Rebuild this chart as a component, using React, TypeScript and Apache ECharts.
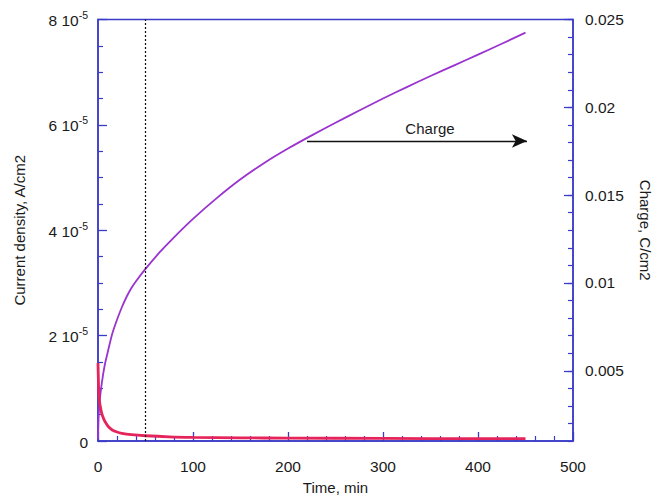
import React, { useEffect, useRef } from "react";
import * as echarts from "echarts";

// Time, min
const chargeTime = [0, 0.5, 1, 2, 4, 7, 10, 15, 20, 25, 30, 35, 40, 50, 65, 80, 100, 125, 150, 175, 200, 225, 250, 275, 300, 325, 350, 375, 400, 425, 450];
// Charge, C/cm2
const chargeValues = [0.0011, 0.0021, 0.0027, 0.0034, 0.0043, 0.0053, 0.006, 0.0071, 0.0079, 0.0086, 0.0092, 0.0097, 0.0101, 0.0108, 0.01175, 0.0126, 0.01365, 0.01483, 0.0159, 0.01683, 0.01765, 0.0184, 0.01912, 0.01982, 0.0205, 0.02115, 0.02178, 0.02239, 0.023, 0.02362, 0.02425];

// Time, min
const currentTime = [0, 0.5, 1, 2, 3, 4, 6, 8, 11, 15, 20, 25, 35, 50, 75, 100, 150, 200, 300, 400, 450];
// Current density, A/cm2
const currentValues = [1.48e-5, 1.1e-5, 0.85e-5, 0.7e-5, 0.6e-5, 0.52e-5, 0.42e-5, 0.35e-5, 0.27e-5, 0.21e-5, 0.17e-5, 0.146e-5, 0.12e-5, 0.1e-5, 0.08e-5, 0.07e-5, 0.06e-5, 0.055e-5, 0.05e-5, 0.045e-5, 0.045e-5];

const xTicks = [0, 100, 200, 300, 400, 500];
const chargeTicks = [0.005, 0.01, 0.015, 0.02, 0.025];
const markerTime = 50;
const arrowStart: [number, number] = [220, 0.01808];
const arrowEnd: [number, number] = [451.5, 0.01808];

const FONT = "'Liberation Sans', Arial, Helvetica, sans-serif";
const AXIS = "#3b3bc9";
const TEXT = "#1a1a1a";

export default function App() {
  const ref = useRef<HTMLDivElement>(null);

  useEffect(() => {
    document.body.style.margin = "0";
    if (!ref.current) return;
    const chart = echarts.init(ref.current, undefined, { renderer: "svg" });

    const axisLine = { show: true, lineStyle: { color: AXIS, width: 1.5 } };
    const nameStyle = { fontSize: 15, color: TEXT, fontFamily: FONT };

    chart.setOption({
      animation: false,
      textStyle: { fontFamily: FONT },
      grid: {
        left: 98,
        right: 92,
        top: 19.5,
        bottom: 57,
        outerBoundsMode: "none",
        containLabel: false,
        show: true,
        borderColor: AXIS,
        borderWidth: 1.5,
      },
      xAxis: {
        type: "value",
        min: xTicks[0],
        max: xTicks[xTicks.length - 1],
        interval: 100,
        name: "Time, min",
        nameLocation: "middle",
        nameGap: 39,
        nameTextStyle: nameStyle,
        axisLine,
        axisTick: { inside: true, length: 9, lineStyle: { color: AXIS, width: 1.3 } },
        minorTick: { show: true, splitNumber: 5, length: 5, lineStyle: { color: AXIS, width: 1.2 } },
        splitLine: { show: false },
        axisLabel: { fontSize: 15.5, color: TEXT, fontFamily: FONT, margin: 17 },
      },
      yAxis: [
        {
          type: "value",
          position: "left",
          min: 0,
          max: 8e-5,
          interval: 2e-5,
          name: "Current density, A/cm2",
          nameLocation: "middle",
          nameGap: 71,
          nameTextStyle: nameStyle,
          axisLine,
          axisTick: { inside: true, length: 9, lineStyle: { color: AXIS, width: 1.3 } },
          minorTick: { show: true, splitNumber: 4, length: 5, lineStyle: { color: AXIS, width: 1.2 } },
          splitLine: { show: false },
          axisLabel: {
            margin: 10,
            color: TEXT,
            fontFamily: FONT,
            fontSize: 15.5,
            formatter: (v: number) =>
              v === 0 ? "{b|0}" : `{b|${Math.round(v / 1e-5)} 10}{s|-5}`,
            rich: {
              b: { fontSize: 15.5, lineHeight: 20, color: TEXT, fontFamily: FONT, padding: [2, 0, 0, 0] },
              s: { fontSize: 10.5, lineHeight: 10, verticalAlign: "top", color: TEXT, fontFamily: FONT },
            },
          },
        },
        {
          type: "value",
          position: "right",
          min: 0.001,
          max: 0.025,
          name: "Charge, C/cm2",
          nameLocation: "middle",
          nameGap: 65,
          nameRotate: -90,
          nameTextStyle: nameStyle,
          axisLine,
          axisTick: {
            inside: true,
            length: 9,
            customValues: chargeTicks,
            lineStyle: { color: AXIS, width: 1.3 },
          },
          splitLine: { show: false },
          axisLabel: {
            customValues: chargeTicks,
            margin: 12,
            fontSize: 15.5,
            color: TEXT,
            fontFamily: FONT,
            formatter: (v: number) => String(+v.toFixed(3)),
          },
        },
        {
          // fine 0.001 ticks along the charge axis
          type: "value",
          position: "right",
          min: 0.001,
          max: 0.025,
          interval: 0.001,
          axisLine: { show: false },
          axisTick: { inside: true, length: 5, lineStyle: { color: AXIS, width: 1.2 } },
          axisLabel: { show: false },
          splitLine: { show: false },
        },
      ],
      series: [
        {
          name: "Charge",
          type: "line",
          yAxisIndex: 1,
          showSymbol: false,
          smooth: 0.25,
          data: chargeTime.map((t, i) => [t, chargeValues[i]]),
          lineStyle: { color: "#9a33cf", width: 1.8 },
          markLine: {
            silent: true,
            symbol: ["none", "arrow"],
            symbolSize: [10, 15],
            lineStyle: { color: "#111", width: 1.3, type: "solid" },
            label: {
              show: true,
              position: "middle",
              formatter: "Charge",
              color: TEXT,
              fontFamily: FONT,
              fontSize: 15,
              distance: 5,
              padding: [0, 0, 0, 26],
            },
            data: [[{ coord: arrowStart }, { coord: arrowEnd }]],
          },
        },
        {
          name: "Current density",
          type: "line",
          yAxisIndex: 0,
          showSymbol: false,
          smooth: 0.3,
          data: currentTime.map((t, i) => [t, currentValues[i]]),
          lineStyle: { color: "#e4245a", width: 2.8 },
          markLine: {
            silent: true,
            symbol: ["none", "none"],
            lineStyle: { color: "#111", width: 1.2, type: [2, 2] },
            label: { show: false },
            data: [{ xAxis: markerTime }],
          },
        },
      ],
    });

    return () => chart.dispose();
  }, []);

  return <div ref={ref} style={{ width: 665, height: 498 }} />;
}
